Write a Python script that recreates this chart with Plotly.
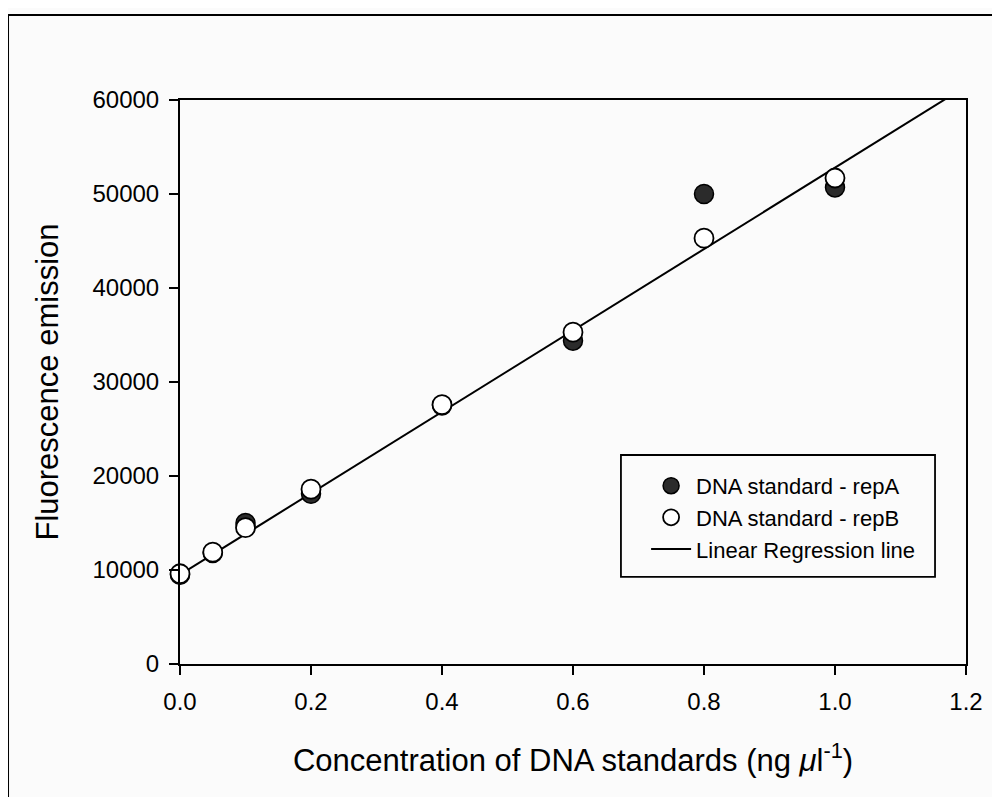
import plotly.graph_objects as go

# Data
conc = [0.0, 0.05, 0.1, 0.2, 0.4, 0.6, 0.8, 1.0]
rep_a = [9500, 11800, 15000, 18100, 27500, 34400, 50000, 50700]
rep_b = [9600, 11900, 14500, 18600, 27600, 35300, 45300, 51700]
reg_intercept = 9500
reg_slope = 43300
reg_x = [0.0, 1.2]

x_ticks = [0.0, 0.2, 0.4, 0.6, 0.8, 1.0, 1.2]
y_ticks = [0, 10000, 20000, 30000, 40000, 50000, 60000]

FONT = "Liberation Sans, Arial, sans-serif"

fig = go.Figure()
fig.add_trace(go.Scatter(
    x=reg_x, y=[reg_intercept + reg_slope * v for v in reg_x],
    mode="lines", name="Linear Regression line",
    line=dict(color="black", width=2), legendrank=3, cliponaxis=True))
fig.add_trace(go.Scatter(
    x=conc, y=rep_a, mode="markers", name="DNA standard - repA",
    marker=dict(size=19, color="#2b2b2b", line=dict(color="black", width=1.5)),
    legendrank=1, cliponaxis=False))
fig.add_trace(go.Scatter(
    x=conc, y=rep_b, mode="markers", name="DNA standard - repB",
    marker=dict(size=19, color="white", line=dict(color="black", width=1.8)),
    legendrank=2, cliponaxis=False))

axis_common = dict(showline=True, linecolor="black", linewidth=2, mirror=True,
                   ticks="outside", ticklen=9, tickwidth=1.5, tickcolor="black",
                   showgrid=False, zeroline=False,
                   tickfont=dict(family=FONT, size=24, color="black"))

fig.update_xaxes(range=[0, 1.2], tickvals=x_ticks,
                 ticktext=[f"{v:.1f}" for v in x_ticks],
                 ticklabelstandoff=6,
                 title=dict(text="Concentration of DNA standards (ng <i>μ</i>l<sup>-1</sup>)",
                            font=dict(family=FONT, size=31, color="black"), standoff=36),
                 **axis_common)
fig.update_yaxes(range=[0, 60000], tickvals=y_ticks,
                 ticktext=[str(v) for v in y_ticks],
                 ticklabelstandoff=5,
                 title=dict(text="Fluorescence emission",
                            font=dict(family=FONT, size=31, color="black"), standoff=25),
                 **axis_common)

fig.update_layout(
    width=1000, height=797,
    margin=dict(l=172, r=42, t=92, b=141),
    paper_bgcolor="#fbfbfb", plot_bgcolor="#fbfbfb",
    showlegend=True,
    legend=dict(x=0.593, y=0.353, xanchor="left", yanchor="top",
                bgcolor="rgba(0,0,0,0)", borderwidth=0,
                font=dict(family=FONT, size=22, color="black"),
                tracegroupgap=0, itemwidth=40),
    shapes=[
        dict(type="rect", xref="paper", yref="paper", x0=0.561, x1=0.9606, y0=0.1543, y1=0.3706,
             line=dict(color="black", width=1.8), fillcolor="rgba(0,0,0,0)", layer="above"),
        dict(type="line", xref="paper", yref="paper", x0=-0.2188, x1=1.1, y0=1.1507, y1=1.1507,
             line=dict(color="black", width=2)),
        dict(type="line", xref="paper", yref="paper", x0=-0.2188, x1=-0.2188, y0=-0.3, y1=1.1507,
             line=dict(color="black", width=2)),
    ],
)

fig.write_html("out.html")
